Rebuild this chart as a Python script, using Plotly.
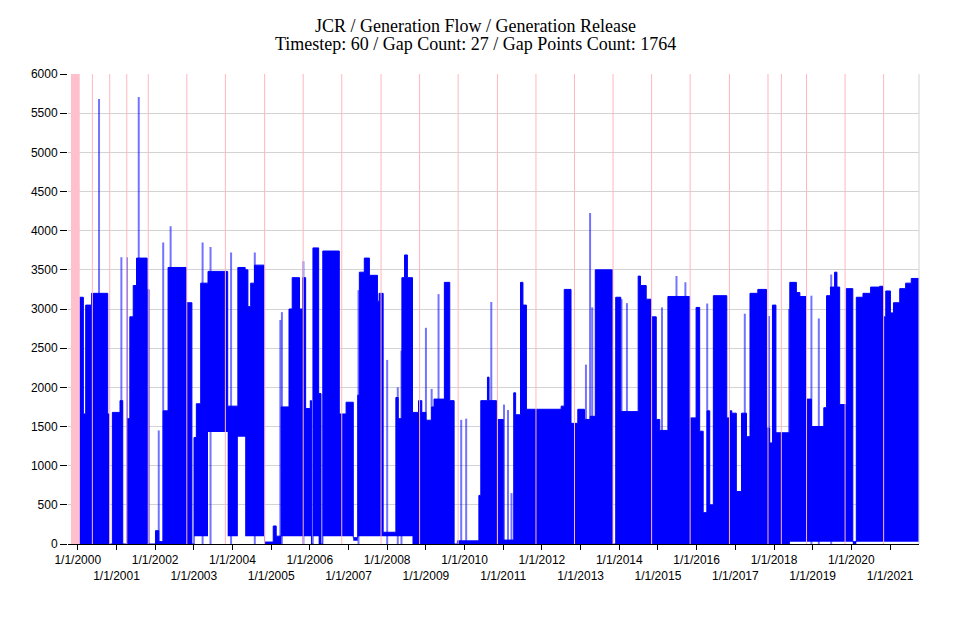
import plotly.graph_objects as go

# -------------------------------
# Data (hourly flow, summarised as step envelopes)
# -------------------------------
seg_dates = [
    "2000-01-16", "2000-02-23", "2000-03-16", "2000-05-10", "2000-10-10", "2000-10-23",
    "2000-11-23", "2001-02-03", "2001-03-01", "2001-04-13", "2001-05-07", "2001-06-08",
    "2001-07-09", "2001-10-18", "2001-11-03", "2002-01-04", "2002-02-04", "2002-03-17",
    "2002-05-03", "2002-10-22", "2002-12-14", "2003-01-03", "2003-01-25", "2003-03-07",
    "2003-05-15", "2003-11-17", "2004-02-21", "2004-04-30", "2004-05-26", "2004-06-21",
    "2004-07-27", "2004-10-30", "2005-01-20", "2005-02-17", "2005-04-05", "2005-06-18",
    "2005-07-18", "2005-09-25", "2005-10-27", "2005-11-22", "2006-01-05", "2006-01-16",
    "2006-01-30", "2006-03-25", "2006-04-16", "2006-05-03", "2006-10-06", "2006-12-09",
    "2007-02-15", "2007-03-29", "2007-04-13", "2007-05-30", "2007-07-17", "2007-10-01",
    "2007-10-17", "2007-11-24", "2008-03-23", "2008-04-14", "2008-05-19", "2008-06-13",
    "2008-07-10", "2008-08-27", "2008-10-23", "2008-11-23", "2009-01-01", "2009-02-24",
    "2009-03-18", "2009-06-24", "2009-08-14", "2009-09-24", "2009-10-25", "2010-05-16",
    "2010-06-03", "2010-08-05", "2010-08-20", "2010-10-30", "2010-11-13", "2011-01-01",
    "2011-04-10", "2011-04-28", "2011-06-13", "2011-07-06", "2011-08-08", "2012-07-01",
    "2012-07-30", "2012-10-02", "2012-12-05", "2013-02-06", "2013-04-01", "2013-05-19",
    "2013-10-28", "2013-11-28", "2014-01-15", "2014-06-28", "2014-07-20", "2014-09-12",
    "2014-10-30", "2014-12-16", "2015-01-18", "2015-04-05", "2015-10-27", "2015-12-27",
    "2016-01-30", "2016-03-03", "2016-04-08", "2016-05-04", "2016-06-07", "2016-10-12",
    "2016-11-06", "2016-11-28", "2017-01-10", "2017-02-28", "2017-04-16", "2017-05-19",
    "2017-08-01", "2017-10-23", "2017-11-21", "2017-12-17", "2018-01-19", "2018-05-30",
    "2018-07-31", "2018-09-02", "2018-11-03", "2018-12-20", "2019-04-16", "2019-05-12",
    "2019-06-18", "2019-07-27", "2019-08-18", "2019-09-13", "2019-11-14", "2020-01-15",
    "2020-02-17", "2020-04-20", "2020-07-01", "2020-09-24", "2020-10-27", "2020-11-21",
    "2021-01-04", "2021-02-02", "2021-04-02", "2021-05-28", "2021-07-20", "2021-09-30",
]
seg_top = [
    3150, 1660, 3050, 3200, 1660, 0,
    1680, 1830, 0, 1600, 2900, 3300,
    3650, 3250, 0, 170, 30, 1700,
    3530, 3080, 0, 1360, 1790, 3330,
    3480, 1760, 3530, 3500, 3030, 3330,
    3560, 25, 230, 100, 1750, 3000,
    3400, 3000, 3400, 1730, 1830, 0,
    3780, 1920, 0, 3740, 1660, 1810,
    80, 1900, 3470, 3650, 3430, 3100,
    3200, 150, 1870, 1600, 3400, 3690,
    3400, 1680, 1830, 1680, 1580, 1750,
    1850, 3340, 1830, 0, 40, 620,
    1830, 2130, 1830, 0, 1590, 50,
    1930, 1650, 3340, 3050, 1720, 1760,
    3250, 1540, 1720, 1590, 1630, 3500,
    0, 3150, 1690, 3420, 3300, 3125,
    2900, 1590, 1450, 3160, 1610, 3020,
    1440, 400, 1700, 500, 3170, 1610,
    1700, 1670, 670, 1670, 1370, 3200,
    3250, 1480, 1290, 3050, 1420, 3340,
    3210, 3160, 1850, 1500, 1740, 3170,
    3280, 3470, 3280, 1780, 3260, 30,
    3150, 3200, 3280, 3290, 2900, 3230,
    2950, 3080, 3260, 3330, 3390, 3390,
]
seg_low = [
    0, 0, 0, 0, 0, 0,
    0, 0, 0, 0, 0, 0,
    0, 0, 0, 0, 0, 0,
    0, 0, 0, 100, 100, 100,
    1430, 100, 1370, 100, 100, 100,
    100, 0, 0, 0, 100, 100,
    100, 100, 100, 100, 100, 0,
    100, 0, 0, 100, 100, 100,
    40, 100, 100, 100, 100, 100,
    100, 100, 100, 100, 100, 100,
    100, 0, 0, 0, 0, 0,
    0, 0, 0, 0, 0, 0,
    0, 0, 0, 0, 0, 0,
    0, 0, 0, 0, 0, 0,
    0, 0, 0, 0, 0, 0,
    0, 0, 0, 0, 0, 0,
    0, 0, 0, 0, 0, 0,
    0, 0, 0, 0, 0, 0,
    0, 0, 0, 0, 0, 0,
    0, 0, 0, 0, 0, 30,
    30, 30, 30, 30, 30, 30,
    30, 30, 30, 30, 30, 0,
    30, 30, 30, 30, 30, 30,
    30, 30, 30, 30, 30, 30,
]

# single-hour peaks that stick out above the envelope
spike_dates = [
    "2000-07-20", "2001-02-16", "2001-04-10", "2001-07-30", "2002-02-04", "2002-03-18",
    "2002-05-27", "2003-03-25", "2003-06-08", "2003-12-19", "2004-07-30", "2005-03-28",
    "2005-04-12", "2005-11-01", "2007-04-05", "2008-01-01", "2008-04-10", "2008-05-15",
    "2009-01-01", "2009-02-24", "2009-04-30", "2009-11-30", "2010-01-16", "2010-09-10",
    "2011-01-08", "2011-02-15", "2011-03-20", "2013-02-20", "2013-03-31", "2013-04-20",
    "2014-01-22", "2014-03-14", "2015-02-08", "2015-06-25", "2015-09-17", "2016-04-10",
    "2017-03-31", "2017-11-15", "2018-05-23", "2018-12-20", "2019-02-28", "2019-06-25",
]
spike_vals = [
    5680, 3660, 3660, 5705, 1450, 3850,
    4055, 3850, 3790, 3720, 3720, 2860,
    2960, 3610, 3240, 2350, 2000, 2470,
    2760, 1980, 3190, 1585, 1600, 3090,
    1780, 1710, 650, 2290, 4225, 3020,
    3125, 3075, 3020, 3420, 3340, 3070,
    2940, 2910, 3000, 3170, 2880, 3440,
]

# missing-data markers
gap_dates = [
    "2000-05-18", "2000-10-29", "2001-04-08", "2001-10-28", "2002-10-27", "2003-10-26",
    "2004-10-31", "2005-10-30", "2006-10-29", "2007-11-04", "2008-11-02", "2009-11-01",
    "2010-11-07", "2011-11-06", "2012-11-04", "2013-11-03", "2014-11-02", "2015-11-01",
    "2016-11-06", "2017-11-05", "2018-03-11", "2018-11-04", "2019-11-03", "2020-11-01",
]
gap_band = ["1999-10-29", "2000-01-20"]

years = list(range(2000, 2022))
tick_vals = [f"{y}-01-01" for y in years]
tick_text = [f"1/1/{y}" if y % 2 == 0 else f"<br>1/1/{y}" for y in years]

BLUE = "#0000FF"

fig = go.Figure()

# lower envelope (invisible) then upper envelope filled down to it
fig.add_trace(go.Scatter(x=seg_dates, y=seg_low, mode="lines", line=dict(width=0, shape="hv"),
                         hoverinfo="skip", showlegend=False))
fig.add_trace(go.Scatter(x=seg_dates, y=seg_top, mode="lines", line=dict(color=BLUE, width=1, shape="hv"),
                         fill="tonexty", fillcolor=BLUE, showlegend=False, name="Generation Release"))

# spikes as thin vertical strokes
sx, sy = [], []
for d, v in zip(spike_dates, spike_vals):
    sx += [d, d, None]
    sy += [0, v, None]
fig.add_trace(go.Scatter(x=sx, y=sy, mode="lines", line=dict(color="rgba(0,0,255,0.55)", width=2),
                         hoverinfo="skip", showlegend=False))

# gap markers
fig.add_vrect(x0=gap_band[0], x1=gap_band[1], fillcolor="pink", line_width=0, layer="above", opacity=1)
for d in gap_dates:
    fig.add_vline(x=d, line=dict(color="#FFB6C1", width=1), layer="above")

# right border of the plot area
fig.add_shape(type="line", xref="paper", yref="paper", x0=1, x1=1, y0=0, y1=1,
              line=dict(color="#D3D3D3", width=1))

title_font = dict(family="Liberation Serif, Times New Roman, serif", size=18, color="black")
fig.add_annotation(text="JCR / Generation Flow / Generation Release", xref="paper", yref="paper",
                   x=0.4794, y=1.1017, yanchor="middle", showarrow=False, font=title_font)
fig.add_annotation(text="Timestep: 60 / Gap Count: 27 / Gap Points Count: 1764", xref="paper", yref="paper",
                   x=0.4794, y=1.0628, yanchor="middle", showarrow=False, font=title_font)

tick_font = dict(family="Liberation Sans, Arial, sans-serif", size=12, color="black")
fig.update_xaxes(type="date", range=["1999-10-01", "2021-10-01"], tickvals=tick_vals, ticktext=tick_text,
                 tickangle=0, automargin=False,
                 tickfont=tick_font, showgrid=False, showline=True, linecolor="black", linewidth=1,
                 ticks="outside", ticklen=5, tickcolor="black", zeroline=False)
fig.update_yaxes(range=[0, 6000], dtick=500, tickfont=tick_font, showgrid=True, gridcolor="#D3D3D3",
                 gridwidth=1, ticks="outside", ticklen=7, tickcolor="black", zeroline=False, showline=False,
                 automargin=False)

# page body adds an 8px offset, so the figure is sized to land the plot area where the original sits
fig.update_layout(width=965, height=609, margin=dict(l=60, r=54, t=66, b=73),
                  paper_bgcolor="white", plot_bgcolor="white", showlegend=False)

fig.write_html("out.html")
